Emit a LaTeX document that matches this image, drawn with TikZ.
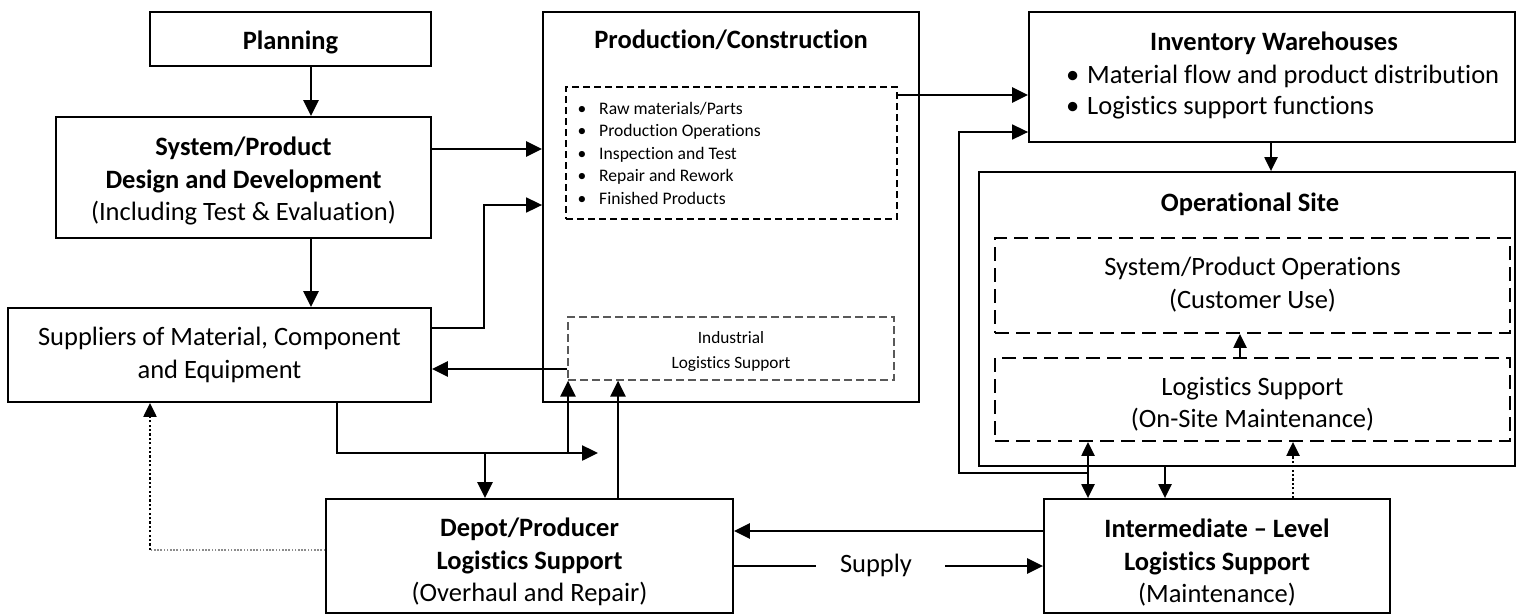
\documentclass[tikz,border=0pt]{standalone}
\usepackage{fontspec}
\setmainfont{Carlito}[Ligatures={TeX,NoCommon}]
\usetikzlibrary{arrows.meta,calc}

\newcommand\mainfs{\fontsize{26.5}{32.5}\selectfont}
\newcommand\listfs{\fontsize{17.6}{22.5}\selectfont}
\newcommand\indfs{\fontsize{17.3}{25}\selectfont}
\newcommand\bitem[2]{\makebox[#1][l]{\textbullet}#2}

\begin{document}
\begin{tikzpicture}[x=1pt,y=-1pt,
  box/.style={draw,line width=1.8pt,inner sep=0pt,align=center,font=\mainfs},
  dbox/.style={draw,line width=1.8pt,dash pattern=on 14pt off 7pt,inner sep=0pt,align=center,font=\mainfs},
  listbox/.style={draw,line width=1.1pt,dash pattern=on 7pt off 4pt,inner sep=0pt},
  indbox/.style={draw=black!65,line width=1.2pt,dash pattern=on 8pt off 4pt,inner sep=0pt},
  txt/.style={inner sep=0pt,font=\mainfs,align=center},
  tip/.tip={Triangle[length=16pt,width=15pt]},
  stip/.tip={Triangle[length=14pt,width=13pt]},
  arr/.style={line width=2.5pt,-tip},
  sarr/.style={line width=2.3pt,-stip},
  twoarr/.style={line width=2.3pt,stip-stip},
  link/.style={line width=1.7pt},
  dotarr/.style={line width=2.2pt,dash pattern=on 2.2pt off 2.2pt,-stip},
]
\useasboundingbox (0,0) rectangle (1517,614);

% ---- boxes ----
\node[box,minimum width=281pt,minimum height=54pt] (plan) at (290.5,39) {};
\node[txt] (plant) at (290.5,42) {\bfseries Planning};
\node[box,minimum width=375pt,minimum height=121pt] (sys) at (243.5,177.5) {};
\node[txt] (syst) at (243.5,181)
  {\bfseries System/Product\\\bfseries Design and Development\\(Including Test \& Evaluation)};
\node[box,minimum width=423pt,minimum height=94pt] (sup) at (219.5,355)
  {Suppliers of Material, Component\\and Equipment};

\node[box,minimum width=376pt,minimum height=390pt] (prod) at (731,207) {};
\node[txt] (prodt) at (731,40) {\bfseries Production/Construction};
\node[listbox,minimum width=331pt,minimum height=132pt] (list) at (731.5,153) {};
\node[inner sep=0pt,anchor=west,align=left,font=\listfs] (items) at (577.5,153)
  {\bitem{21.5pt}{Raw materials/Parts}\\
   \bitem{21.5pt}{Production Operations}\\
   \bitem{21.5pt}{Inspection and Test}\\
   \bitem{21.5pt}{Repair and Rework}\\
   \bitem{21.5pt}{Finished Products}};
\node[indbox,minimum width=326pt,minimum height=63pt] (ind) at (731,348.5) {};
\node[inner sep=0pt,align=center,font=\indfs] (indt) at (731,351.5) {Industrial\\Logistics Support};

\node[box,minimum width=486pt,minimum height=130pt] (inv) at (1272,77) {};
\node[txt] (invt) at (1274,43) {\bfseries Inventory Warehouses};
\node[txt,anchor=west] (inv1) at (1066,76) {\bitem{21pt}{Material flow and product distribution}};
\node[txt,anchor=west] (inv2) at (1066,108) {\bitem{21pt}{Logistics support functions}};

\node[box,minimum width=536pt,minimum height=294pt] (site) at (1247,319) {};
\node[txt] (sitet) at (1250,204) {\bfseries Operational Site};
\node[dbox,minimum width=515pt,minimum height=95pt] (ops) at (1252.5,285.5) {};
\node[txt] (opst) at (1252.5,284.5) {System/Product Operations\\(Customer Use)};
\node[dbox,minimum width=515pt,minimum height=83pt] (ls) at (1252.5,399.5) {};
\node[txt] (lst) at (1252.5,404) {Logistics Support\\(On-Site Maintenance)};

\node[box,minimum width=407pt,minimum height=114pt] (depot) at (529.5,556) {};
\node[txt] (depott) at (529.5,562)
  {\bfseries Depot/Producer\\\bfseries Logistics Support\\(Overhaul and Repair)};
\node[box,minimum width=346pt,minimum height=114pt] (inter) at (1217,556) {};
\node[txt] (intert) at (1217,563)
  {\bfseries Intermediate – Level\\\bfseries Logistics Support\\(Maintenance)};
\node[txt] (supply) at (876,565) {Supply};

% ---- reference points for connectors ----
\coordinate (xa) at (311,0);
\coordinate (ya) at (0,149);
\coordinate (s1) at (484,328);
\coordinate (s2) at (484,205);
\coordinate (yi) at (0,369);
\coordinate (b1) at (337,453);
\coordinate (b2) at (598,453);
\coordinate (b3) at (485,453);
\coordinate (b4) at (568,453);
\coordinate (b5) at (618,0);
\coordinate (d1) at (150,550);
\coordinate (yd) at (0,531);
\coordinate (ys) at (0,566);
\coordinate (ys1) at (816,566);
\coordinate (ys2) at (945,566);
\coordinate (yl) at (0,95);
\coordinate (f1) at (1088,473);
\coordinate (f2) at (959,473);
\coordinate (f3) at (959,132);
\coordinate (xw) at (1271,0);
\coordinate (xo) at (1240,0);
\coordinate (xb) at (1088,0);
\coordinate (xc) at (1165,0);
\coordinate (xe) at (1293,0);

% ---- connectors ----
\draw[arr] (plan.south -| xa) -- (sys.north -| xa);
\draw[arr] (sys.south -| xa) -- (sup.north -| xa);
\draw[arr] (sys.east |- ya) -- (prod.west |- ya);
\draw[link,-tip] (sup.east |- s1) -- (s1) -- (s2) -- (prod.west |- s2);
\draw[arr] (ind.west |- yi) -- (sup.east |- yi);
\draw[arr] (sup.south -| b1) -- (b1) -- (b2);
\draw[arr] (b3) -- (depot.north -| b3);
\draw[arr] (b4) -- (ind.south -| b4);
\draw[arr] (depot.north -| b5) -- (ind.south -| b5);
\draw[line width=1.6pt,black!45,dash pattern=on 1.6pt off 1.6pt] (depot.west |- d1) -- (d1);
\draw[dotarr] (d1) -- (sup.south -| d1);
\draw[arr] (inter.west |- yd) -- (depot.east |- yd);
\draw[line width=2.2pt] (depot.east |- ys) -- (ys1);
\draw[arr] (ys2) -- (inter.west |- ys);
\draw[arr] (list.east |- yl) -- (inv.west |- yl);
\draw[link,-tip] (f1) -- (f2) -- (f3) -- (inv.west |- f3);
\draw[sarr] (inv.south -| xw) -- (site.north -| xw);
\draw[sarr] (ls.north -| xo) -- (ops.south -| xo);
\draw[twoarr] (ls.south -| xb) -- (inter.north -| xb);
\draw[sarr] (site.south -| xc) -- (inter.north -| xc);
\draw[dotarr] (inter.north -| xe) -- (ls.south -| xe);
\end{tikzpicture}
\end{document}
